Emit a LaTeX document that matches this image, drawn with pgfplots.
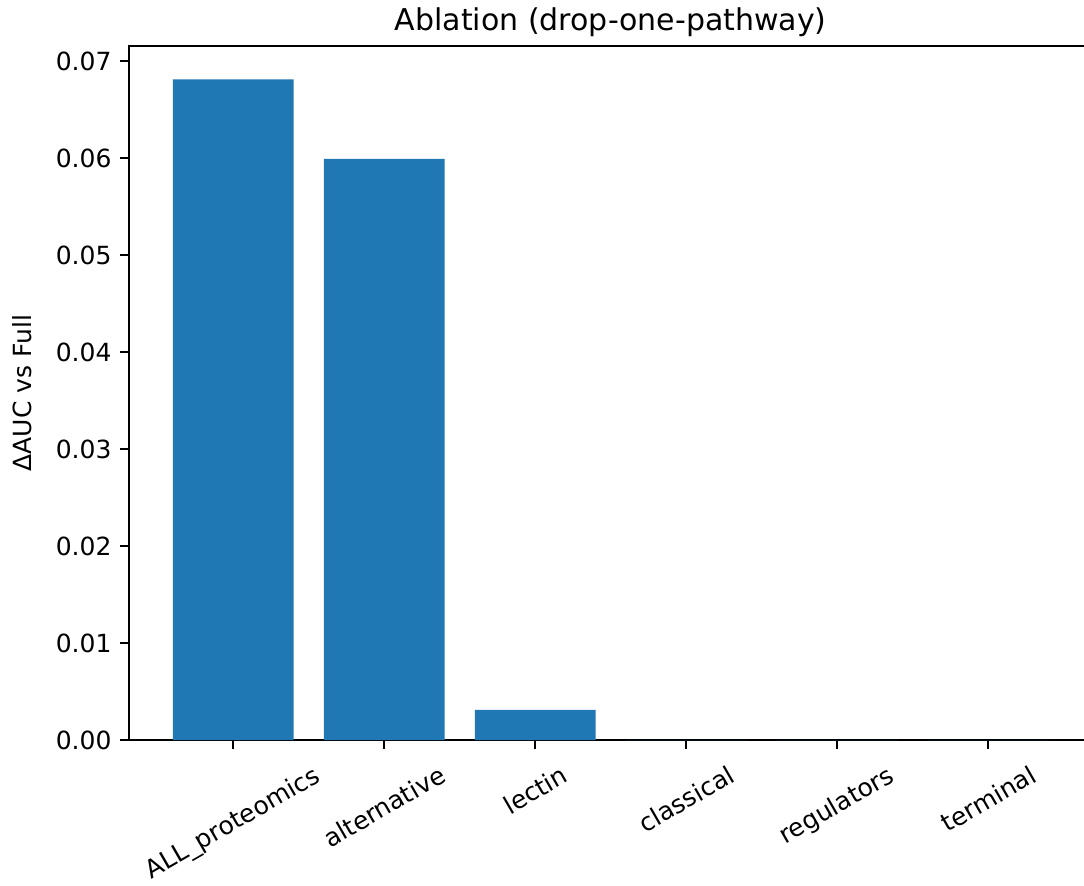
\documentclass[border=0pt]{standalone}
\usepackage{fontspec}
\setmainfont{DejaVu Sans}
\usepackage{graphicx}
\usepackage{pgfplots}
\pgfplotsset{compat=1.18}
\definecolor{mplblue}{HTML}{1F77B4}
\begin{document}
\begin{tikzpicture}
\begin{axis}[
  at={(51.6pt,58pt)}, anchor=south west,
  scale only axis, width=385.4pt, height=277.6pt,
  xmin=-0.69, xmax=5.69, ymin=0, ymax=0.07155,
  axis line style={line width=0.8pt, black},
  tick style={line width=0.8pt, black},
  tick align=outside, major tick length=3.5pt,
  xtick pos=bottom, ytick pos=left,
  xtick={0,1,2,3,4,5},
  xticklabels={\rotatebox{30}{ALL\_proteomics},\rotatebox{30}{alternative},\rotatebox{30}{lectin},\rotatebox{30}{classical},\rotatebox{30}{regulators},\rotatebox{30}{terminal}},
  xticklabel style={anchor=north, font=\fontsize{10}{12}\selectfont, inner sep=0pt, yshift=-6pt},
  ytick={0,0.01,0.02,0.03,0.04,0.05,0.06,0.07},
  yticklabel style={font=\fontsize{10}{12}\selectfont, /pgf/number format/fixed, /pgf/number format/fixed zerofill, /pgf/number format/precision=2, /pgf/number format/assume math mode=true},
  scaled y ticks=false,
  ylabel={ΔAUC vs Full},
  ylabel style={font=\fontsize{10}{12}\selectfont, yshift=2.5pt},
  title={Ablation (drop-one-pathway)},
  title style={font=\fontsize{12}{14}\selectfont, yshift=-6pt},
  ybar, bar width=0.8, bar shift=0pt,
]
\addplot[fill=mplblue, draw=none] coordinates {(0,0.0681) (1,0.0599) (2,0.0031) (3,0) (4,0) (5,0)};
\end{axis}
\pgfresetboundingbox
\useasboundingbox (0,0) rectangle (433.6pt,354pt);
\end{tikzpicture}
\end{document}
